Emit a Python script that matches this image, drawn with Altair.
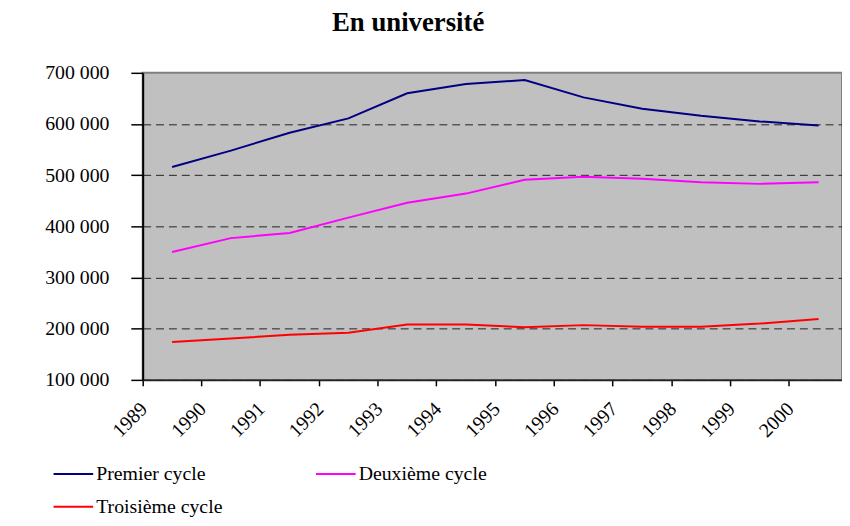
import altair as alt
import pandas as pd

years = ["1989", "1990", "1991", "1992", "1993", "1994", "1995", "1996", "1997", "1998", "1999", "2000"]
series = ["Premier cycle", "Deuxième cycle", "Troisième cycle"]
premier = [516000, 548000, 583000, 611000, 660000, 678000, 686000, 652000, 630000, 616000, 605000, 597000]
deuxieme = [350000, 377000, 387000, 417000, 446000, 464000, 491000, 497000, 493000, 486000, 483000, 486000]
troisieme = [174000, 181000, 188000, 192000, 208000, 208000, 203000, 207000, 204000, 204000, 210000, 219000]
colors = ["#000080", "#FF00FF", "#FF0000"]
y_ticks = [100000, 200000, 300000, 400000, 500000, 600000, 700000]

rows = []
for s, vals in zip(series, [premier, deuxieme, troisieme]):
    for yr, v in zip(years, vals):
        rows.append({"annee": yr, "serie": s, "valeur": v})
df = pd.DataFrame(rows)

FONT = "Liberation Serif"

chart = alt.Chart(df).mark_line(strokeWidth=2).encode(
    x=alt.X(
        "annee:O",
        sort=years,
        scale=alt.Scale(type="band", range=[0, 712], paddingInner=0, paddingOuter=0),
        axis=alt.Axis(
            title=None, bandPosition=0, labelAngle=-45, labelAlign="right", labelBaseline="middle",
            labelFont=FONT, labelFontSize=20, labelColor="black", labelPadding=20, labelOffset=-28,
            tickSize=6, tickColor="black", tickWidth=1.5, domainColor="#222222", domainWidth=2,
            grid=False,
        ),
    ),
    y=alt.Y(
        "valeur:Q",
        scale=alt.Scale(domain=[100000, 700000], nice=False, zero=False),
        axis=alt.Axis(
            title=None, values=y_ticks,
            labelExpr="replace(format(datum.value, ',d'), ',', ' ')",
            labelFont=FONT, labelFontSize=20, labelColor="black", labelPadding=22,
            tickSize=12, tickColor="black", tickWidth=1.5, domainColor="black", domainWidth=2,
            grid=True, gridDash=[8, 5], gridColor="#222222", gridWidth=1,
            gridOpacity={"condition": {"test": "datum.value >= 700000", "value": 0}, "value": 1},
        ),
    ),
    color=alt.Color(
        "serie:N",
        sort=series,
        scale=alt.Scale(domain=series, range=colors),
        legend=alt.Legend(
            title=None, orient="none", legendX=-91, legendY=384, columns=2, direction="horizontal",
            columnPadding=90, rowPadding=2, symbolType="stroke", symbolSize=1600,
            symbolStrokeWidth=2, labelFont=FONT, labelFontSize=20, labelColor="black",
            labelOffset=2, padding=0,
        ),
    ),
).properties(
    width=706,
    height=310,
    title=alt.TitleParams(
        "En université", font=FONT, fontSize=27, fontWeight="bold", color="black",
        anchor="middle", dx=-85, offset=26,
    ),
    autosize=alt.AutoSizeParams(type="none"),
    padding={"left": 136, "top": 63, "right": 0, "bottom": 137},
).configure_view(
    fill="#C0C0C0", stroke="#808080", strokeWidth=2
)

chart.save("out.html", embed_options={"renderer": "svg", "actions": False})
